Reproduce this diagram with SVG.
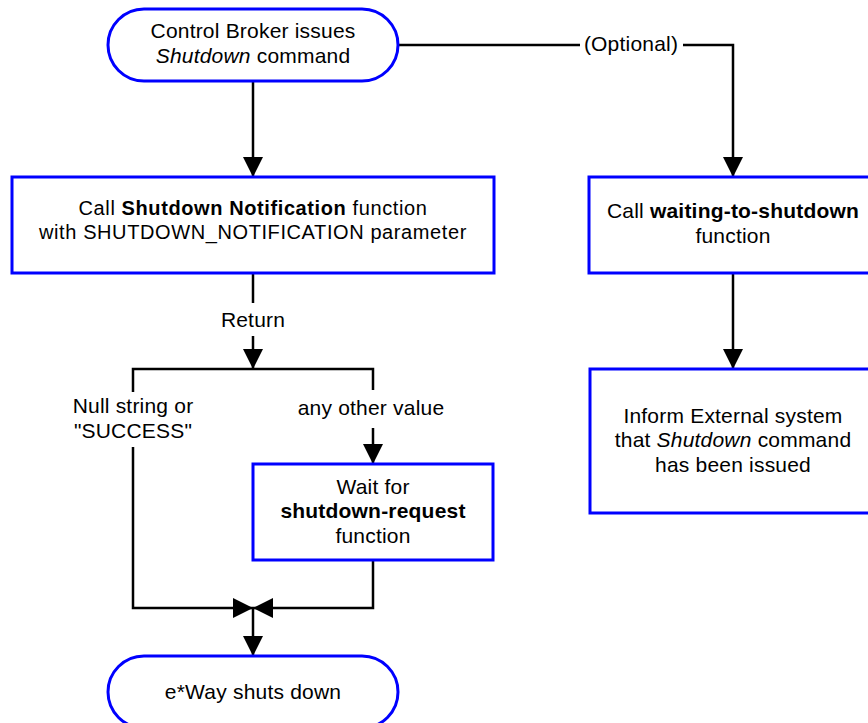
<svg xmlns="http://www.w3.org/2000/svg" width="868" height="723" viewBox="0 0 868 723">
<style>
.node{fill:#fff;stroke:#0000ff;stroke-width:3}
.ln{fill:none;stroke:#000;stroke-width:2.5}
text{font-family:"Liberation Sans",Arial,sans-serif;font-size:21px;letter-spacing:0.2px;fill:#000;text-anchor:middle}
.sm{font-size:20px;letter-spacing:0.6px}
.b{font-weight:bold}
.i{font-style:italic}
</style>
<defs>
<marker id="ah" markerUnits="userSpaceOnUse" markerWidth="20" markerHeight="20" refX="20" refY="10" orient="auto">
<path d="M0,0 L20,10 L0,20 z" fill="#000"/>
</marker>
</defs>
<rect width="868" height="723" fill="#fff"/>
<g id="connectors">
<path class="ln" d="M253,81 V177" marker-end="url(#ah)"/>
<path class="ln" d="M398,45 H580"/>
<path class="ln" d="M683,45 H733 V177" marker-end="url(#ah)"/>
<path class="ln" d="M253,273 V303"/>
<path class="ln" d="M253,336 V369" marker-end="url(#ah)"/>
<path class="ln" d="M133,392 V369 H373 V390"/>
<path class="ln" d="M373,428 V464" marker-end="url(#ah)"/>
<path class="ln" d="M133,447 V608 H253" marker-end="url(#ah)"/>
<path class="ln" d="M373,560 V608 H253" marker-end="url(#ah)"/>
<path class="ln" d="M253,608 V656" marker-end="url(#ah)"/>
<path class="ln" d="M733,273 V369" marker-end="url(#ah)"/>
<text x="631" y="51">(Optional)</text>
<text x="253" y="327">Return</text>
<text x="133" y="413">Null string or</text>
<text x="133" y="438">"SUCCESS"</text>
<text x="371" y="415">any other value</text>
</g>
<g id="start">
<rect class="node" x="108" y="9" width="290" height="72" rx="36" ry="36"/>
<text x="253" y="38">Control Broker issues</text>
<text x="253" y="63"><tspan class="i">Shutdown</tspan> command</text>
</g>
<g id="notify">
<rect class="node" x="12" y="177" width="482" height="96"/>
<text class="sm" x="253" y="215">Call <tspan class="b">Shutdown Notification</tspan> function</text>
<text class="sm" x="253" y="239">with SHUTDOWN_NOTIFICATION parameter</text>
</g>
<g id="waiting">
<rect class="node" x="589" y="177" width="290" height="96"/>
<text x="733" y="218">Call <tspan class="b">waiting-to-shutdown</tspan></text>
<text x="733" y="243">function</text>
</g>
<g id="inform">
<rect class="node" x="590" y="369" width="290" height="144"/>
<text x="733" y="423">Inform External system</text>
<text x="733" y="447">that <tspan class="i">Shutdown</tspan> command</text>
<text x="733" y="472">has been issued</text>
</g>
<g id="wait">
<rect class="node" x="253" y="464" width="240" height="96"/>
<text x="373" y="494">Wait for</text>
<text x="373" y="518" class="b">shutdown-request</text>
<text x="373" y="543">function</text>
</g>
<g id="end">
<rect class="node" x="108" y="656" width="290" height="72" rx="36" ry="36"/>
<text x="253" y="699">e*Way shuts down</text>
</g>
</svg>
